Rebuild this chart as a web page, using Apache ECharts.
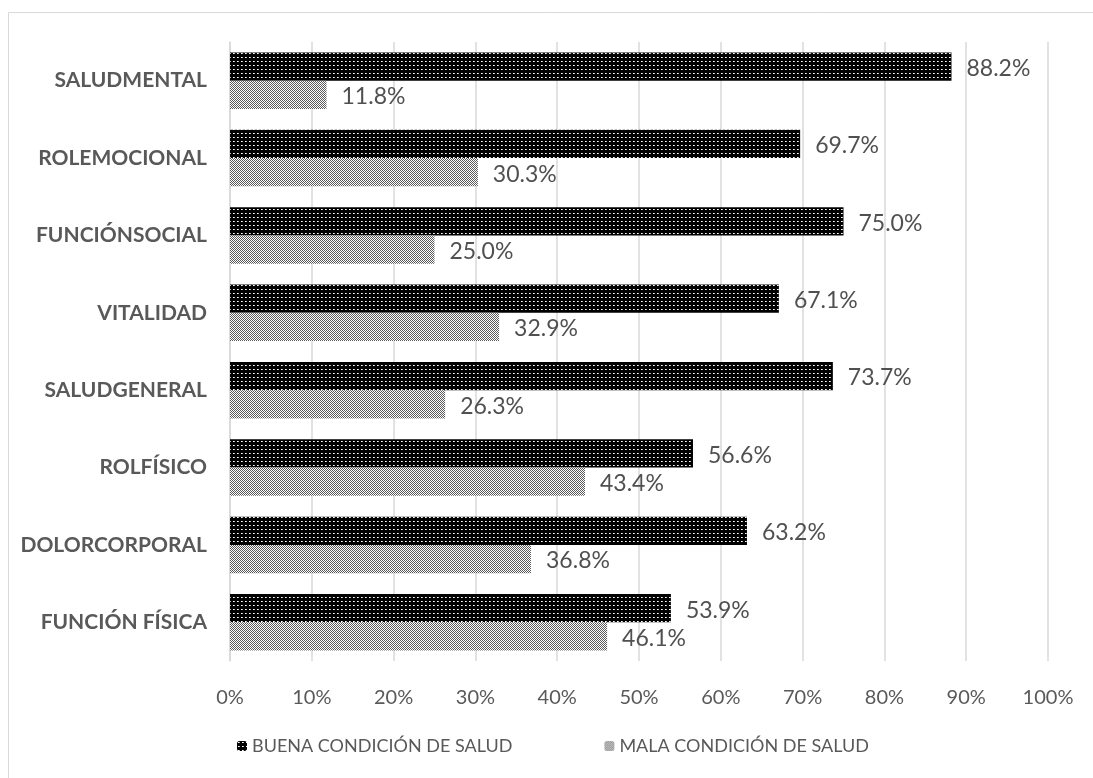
<!DOCTYPE html>
<html><head><meta charset="utf-8">
<script src="https://cdn.jsdelivr.net/npm/echarts@6/dist/echarts.min.js"></script>
<style>html,body{margin:0;padding:0;background:#fff}#c{width:1093px;height:778px}</style>
</head><body><div id="c"></div>
<script>
const categories = ['FUNCIÓN FÍSICA','DOLORCORPORAL','ROLFÍSICO','SALUDGENERAL','VITALIDAD','FUNCIÓNSOCIAL','ROLEMOCIONAL','SALUDMENTAL'];
const buena = [53.9, 63.2, 56.6, 73.7, 67.1, 75.0, 69.7, 88.2];
const mala = [46.1, 36.8, 43.4, 26.3, 32.9, 25.0, 30.3, 11.8];
const seriesNames = ['BUENA CONDICIÓN DE SALUD', 'MALA CONDICIÓN DE SALUD'];
const xTicks = [0,10,20,30,40,50,60,70,80,90,100];

function darkPattern(){
  const c = document.createElement('canvas'); c.width = 4; c.height = 4;
  const g = c.getContext('2d');
  g.fillStyle = '#000'; g.fillRect(0,0,4,4);
  g.fillStyle = '#fff'; g.fillRect(1,1,1,1);
  g.fillStyle = '#bbb'; g.fillRect(2,1,1,1);
  return c;
}
function lightPattern(){
  const c = document.createElement('canvas'); c.width = 2; c.height = 2;
  const g = c.getContext('2d');
  g.fillStyle = '#fff'; g.fillRect(0,0,2,2);
  g.fillStyle = '#5a5a5a'; g.fillRect(0,0,1,1); g.fillRect(1,1,1,1);
  return c;
}
const chart = echarts.init(document.getElementById('c'));
const font = 'Lato, "Open Sans", sans-serif';
const labelCfg = {show:true, position:'right', distance:15, offset:[0,2], fontFamily:font, fontSize:23, color:'#505050',
  formatter: p => p.value.toFixed(1) + '%'};
chart.setOption({
  animation:false,
  graphic:[{type:'rect', shape:{x:8.5,y:12.5,width:1100,height:800}, style:{fill:'none', stroke:'#d9d9d9', lineWidth:1}, z:-1}],
  grid:{left:230, right:45, top:42, bottom:117},
  legend:{bottom:18, left:232, itemWidth:10, itemHeight:10, itemGap:92,
    textStyle:{fontFamily:font, fontSize:18, color:'#595959'}, data:seriesNames},
  xAxis:{type:'value', min:0, max:100, interval:10,
    axisLabel:{formatter: v => v + '%', fontFamily:font, fontSize:20, color:'#595959', margin:27},
    splitLine:{lineStyle:{color:'#d9d9d9', width:1.5}}, axisLine:{show:false}, axisTick:{show:false}},
  yAxis:{type:'category', data:categories,
    axisLabel:{fontFamily:font, fontSize:21, fontWeight:'bold', color:'#595959', margin:23},
    axisLine:{lineStyle:{color:'#d9d9d9', width:1.5}}, axisTick:{show:false}},
  series:[
    {name:seriesNames[0], type:'bar', data:buena, barGap:'0%', barCategoryGap:'27%',
      itemStyle:{color:{image:darkPattern(), repeat:'repeat'}}, label:labelCfg},
    {name:seriesNames[1], type:'bar', data:mala,
      itemStyle:{color:{image:lightPattern(), repeat:'repeat'}}, label:labelCfg}
  ]
});
</script></body></html>
